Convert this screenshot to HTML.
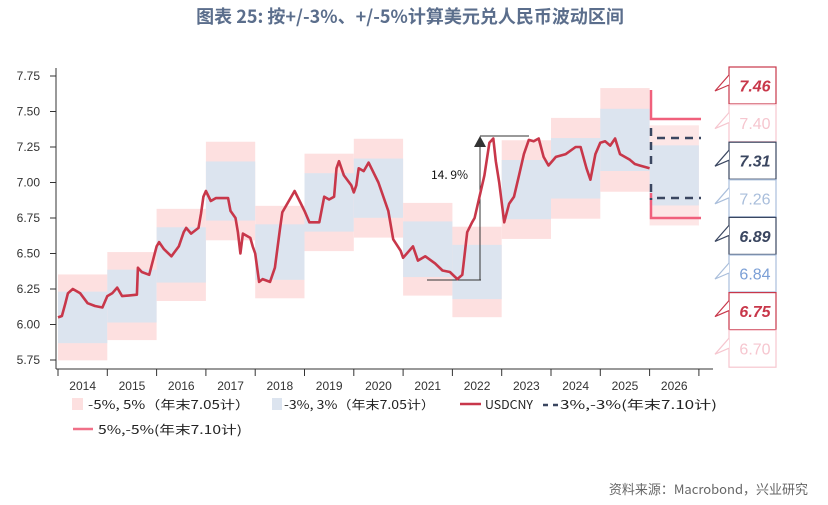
<!DOCTYPE html>
<html><head><meta charset="utf-8"><style>
html,body{margin:0;padding:0;background:#fff;}
body{width:828px;height:500px;overflow:hidden;font-family:"Liberation Sans","Noto Sans CJK SC",sans-serif;}
</style></head><body>
<svg id="s" width="828" height="500" xmlns="http://www.w3.org/2000/svg" font-family="Liberation Sans, Noto Sans CJK SC, sans-serif">
<text x="410" y="23" text-anchor="middle" font-size="18" font-weight="bold" fill="#5b6e8c" font-family="Noto Sans CJK SC, sans-serif">图表 25: 按+/-3%、+/-5%计算美元兑人民币波动区间</text>
<g id="bands"></g>
<g id="axes" stroke="#333" stroke-width="1"></g>
<g id="lab" font-size="12" fill="#333"></g>
<g stroke="#333" stroke-width="1" fill="none">
<line x1="427" y1="280" x2="481" y2="280"/>
<line x1="480" y1="280" x2="480" y2="146"/>
<line x1="480" y1="136" x2="529" y2="136"/>
</g>
<polygon points="474,147 486,147 480,136" fill="#333"/>
<text x="431" y="179" font-size="12" fill="#111" font-family="Noto Sans CJK SC, sans-serif">14. 9%</text>
<polyline id="usd" fill="none" stroke="#c8374a" stroke-width="2.6" stroke-linejoin="round"/>
<g stroke="#f0607c" stroke-width="2.5" fill="none">
<polyline points="651,90 651,119 701,119"/>
<polyline points="651,193 651,218 701,218"/>
</g>
<g stroke="#3a4660" stroke-width="2.5" fill="none" stroke-dasharray="8,6">
<polyline points="651,128 651,170"/>
<polyline points="657,138 701,138"/>
<polyline points="651,184 651,200"/>
<polyline points="657,198 701,198"/>
</g>
<g id="rlab"></g>
<g font-size="12" fill="#222" font-family="Noto Sans CJK SC, sans-serif">
<rect x="72" y="398" width="11" height="12" fill="#fde0e0"/>
<text x="88" y="409" textLength="162" lengthAdjust="spacingAndGlyphs">-5%, 5%（年末7.05计）</text>
<rect x="272" y="398" width="10" height="12" fill="#dce4ef"/>
<text x="284" y="409" textLength="151" lengthAdjust="spacingAndGlyphs">-3%, 3%（年末7.05计）</text>
<line x1="460" y1="404" x2="481" y2="404" stroke="#c8374a" stroke-width="2.5"/>
<text x="485" y="409" textLength="48" lengthAdjust="spacingAndGlyphs">USDCNY</text>
<line x1="543" y1="405" x2="558" y2="405" stroke="#3a4660" stroke-width="2.5" stroke-dasharray="5,5"/>
<text x="560" y="409" textLength="157" lengthAdjust="spacingAndGlyphs">3%,-3%(年末7.10计)</text>
<line x1="73" y1="429" x2="93" y2="429" stroke="#f07088" stroke-width="2.5"/>
<text x="98" y="434" textLength="144" lengthAdjust="spacingAndGlyphs">5%,-5%(年末7.10计)</text>
</g>
<text x="808" y="494" text-anchor="end" font-size="13" fill="#666" font-family="Noto Sans CJK SC, sans-serif">资料来源：Macrobond，兴业研究</text>
</svg>
<script>
const NS="http://www.w3.org/2000/svg";
function Y(v){return 76+(7.75-v)*142;}
function X(t){return 58+(t-2014)*49.3;}
function el(p,tag,a,txt){const e=document.createElementNS(NS,tag);for(const k in a)e.setAttribute(k,a[k]);if(txt!==undefined)e.textContent=txt;document.getElementById(p).appendChild(e);return e;}
const cs=[6.05,6.2,6.49,6.94,6.51,6.86,6.96,6.53,6.37,6.95,7.1,7.3,7.05];
cs.forEach((c,i)=>{const x0=X(2014+i),x1=X(2015+i);
 el("bands","rect",{x:x0,y:Y(c*1.05),width:x1-x0,height:Y(c*0.95)-Y(c*1.05),fill:"#fde0e0",opacity:i==12?0.8:1});
 el("bands","rect",{x:x0,y:Y(c*1.03),width:x1-x0,height:Y(c*0.97)-Y(c*1.03),fill:"#dce4ef"});
});
el("axes","line",{x1:56,y1:68,x2:56,y2:369});
el("axes","line",{x1:56,y1:369,x2:713,y2:369});
[5.75,6,6.25,6.5,6.75,7,7.25,7.5,7.75].forEach(v=>{
 el("axes","line",{x1:50,y1:Y(v),x2:56,y2:Y(v)});
 el("lab","text",{x:40,y:Y(v)+4,"text-anchor":"end"},v.toFixed(2));
});
for(let i=0;i<=13;i++){el("axes","line",{x1:X(2014+i),y1:369,x2:X(2014+i),y2:376});
 if(i<13)el("lab","text",{x:X(2014.5+i),y:390,"text-anchor":"middle"},String(2014+i));}
const d=[[2014,6.05],[2014.08,6.06],[2014.15,6.15],[2014.2,6.22],[2014.3,6.25],[2014.45,6.22],[2014.6,6.15],[2014.75,6.13],[2014.9,6.12],[2015,6.2],[2015.1,6.22],[2015.2,6.26],[2015.3,6.2],[2015.6,6.21],[2015.62,6.4],[2015.7,6.37],[2015.85,6.35],[2016,6.55],[2016.05,6.58],[2016.15,6.53],[2016.3,6.48],[2016.45,6.55],[2016.55,6.65],[2016.6,6.68],[2016.7,6.64],[2016.85,6.68],[2016.9,6.78],[2016.95,6.9],[2017,6.94],[2017.1,6.87],[2017.2,6.89],[2017.45,6.89],[2017.5,6.8],[2017.6,6.75],[2017.65,6.65],[2017.7,6.5],[2017.75,6.64],[2017.9,6.61],[2017.95,6.55],[2018,6.5],[2018.08,6.3],[2018.15,6.32],[2018.3,6.3],[2018.4,6.4],[2018.5,6.67],[2018.55,6.79],[2018.7,6.88],[2018.8,6.94],[2018.9,6.87],[2019,6.8],[2019.1,6.72],[2019.3,6.72],[2019.4,6.9],[2019.5,6.88],[2019.6,6.9],[2019.65,7.1],[2019.7,7.15],[2019.8,7.05],[2019.95,6.98],[2020,6.93],[2020.05,6.98],[2020.1,7.1],[2020.2,7.08],[2020.3,7.14],[2020.5,7.0],[2020.7,6.8],[2020.8,6.6],[2020.95,6.52],[2021,6.47],[2021.2,6.55],[2021.3,6.45],[2021.45,6.48],[2021.65,6.43],[2021.8,6.38],[2021.95,6.37],[2022.1,6.32],[2022.2,6.35],[2022.3,6.65],[2022.4,6.72],[2022.45,6.75],[2022.55,6.9],[2022.65,7.05],[2022.75,7.28],[2022.83,7.31],[2022.88,7.15],[2022.95,7.0],[2023.05,6.72],[2023.15,6.85],[2023.25,6.9],[2023.35,7.05],[2023.45,7.2],[2023.55,7.3],[2023.65,7.29],[2023.75,7.31],[2023.85,7.18],[2023.95,7.12],[2024.1,7.18],[2024.3,7.2],[2024.5,7.25],[2024.6,7.25],[2024.72,7.1],[2024.8,7.02],[2024.9,7.2],[2025,7.28],[2025.1,7.29],[2025.2,7.26],[2025.3,7.31],[2025.4,7.2],[2025.6,7.16],[2025.7,7.13],[2025.8,7.12],[2026,7.1]];
document.getElementById("usd").setAttribute("points",d.map(p=>X(p[0]).toFixed(1)+","+Y(p[1]).toFixed(1)).join(" "));
const R=[["7.46","#c8374a","#c8374a",true],["7.40","#f6c6cf","#f6c6cf",false],["7.31","#3a4660","#3a4660",true],["7.26","#a9bedb","#a9bedb",false],["6.89","#3a4660","#3a4660",true],["6.84","#7b9fd6","#a9bedb",false],["6.75","#c8374a","#c8374a",true],["6.70","#f6c6cf","#f6c6cf",false]];
R.forEach((r,i)=>{const top=67+i*37.6,h=37;
 el("rlab","rect",{x:729,y:top,width:47,height:h,fill:"#fff",stroke:r[2],"stroke-width":1.2});
 el("rlab","polyline",{points:`729,${top+8} 715,${top+24} 729,${top+18}`,fill:"#fff",stroke:r[2],"stroke-width":1.2});
 el("rlab","text",{x:755,y:top+h/2+6,"text-anchor":"middle","font-size":16,fill:r[1],"font-weight":r[3]?"bold":"normal","font-style":r[3]?"italic":"normal"},r[0]);
});
</script>
</body></html>
